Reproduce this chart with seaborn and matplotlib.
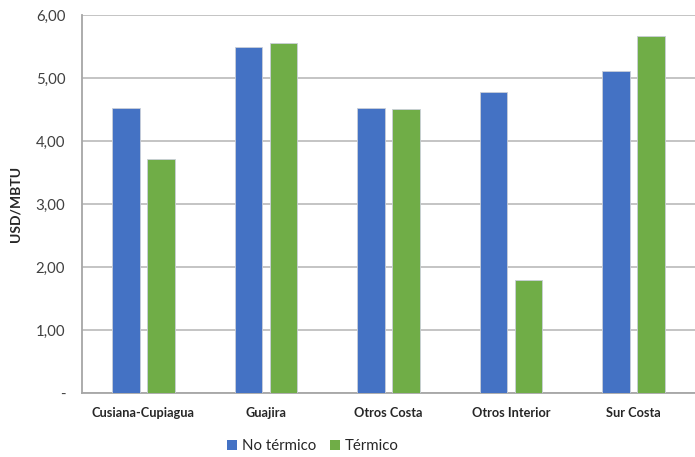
import matplotlib
matplotlib.use("Agg")
import matplotlib.pyplot as plt
import seaborn as sns
import pandas as pd
from matplotlib.patches import Patch

# Precio promedio del gas por región y tipo de demanda
regiones = ["Cusiana-Cupiagua", "Guajira", "Otros Costa", "Otros Interior", "Sur Costa"]
no_termico = [4.52, 5.49, 4.53, 4.78, 5.11]
termico = [3.71, 5.55, 4.51, 1.79, 5.67]
series = ["No térmico", "Térmico"]
colores = ["#4472C4", "#70AD47"]
y_ticks = [0, 1, 2, 3, 4, 5, 6]
y_tick_labels = ["-", "1,00", "2,00", "3,00", "4,00", "5,00", "6,00"]

df = pd.DataFrame({
    "Región": regiones * 2,
    "Valor": no_termico + termico,
    "Tipo": [series[0]] * len(regiones) + [series[1]] * len(regiones),
})

sns.set_theme(style="white")
plt.rcParams["font.family"] = ["Lato", "DejaVu Sans"]

fig = plt.figure(figsize=(6.95, 4.57), dpi=100)
ax = fig.add_axes([0.118, 0.140, 0.882, 0.827])

sns.barplot(data=df, x="Región", y="Valor", hue="Tipo", palette=colores,
            saturation=1, width=0.571, gap=0.214, edgecolor="#C9CED8",
            linewidth=0.6, legend=False, ax=ax, zorder=3)

ax.set_ylim(0, 6)
ax.set_yticks(y_ticks)
ax.set_yticklabels(y_tick_labels, fontsize=10.8, color="#404040")
ax.yaxis.grid(True, color="#BFBFBF", linewidth=1.3, zorder=0)
ax.set_axisbelow(True)
ax.tick_params(axis="y", length=0, pad=12)
ax.tick_params(axis="x", length=0, pad=10)
for lbl in ax.get_xticklabels():
    lbl.set_fontweight("bold")
    lbl.set_fontsize(9.2)
    lbl.set_color("#262626")

ax.set_xlabel("")
ax.set_ylabel("USD/MBTU", fontsize=10, fontweight="bold", color="#262626", labelpad=10)

for side in ["top", "right"]:
    ax.spines[side].set_visible(False)
for side in ["left", "bottom"]:
    ax.spines[side].set_color("#A6A6A6")
    ax.spines[side].set_linewidth(1.3)

handles = [Patch(facecolor=c, edgecolor="none") for c in colores]
fig.legend(handles, series, loc="center", bbox_to_anchor=(0.45, 0.023),
           ncol=2, frameon=False, fontsize=10.8, handlelength=0.7, handleheight=0.7,
           handletextpad=0.3, columnspacing=0.9)

fig.savefig("out.png", dpi=100)
